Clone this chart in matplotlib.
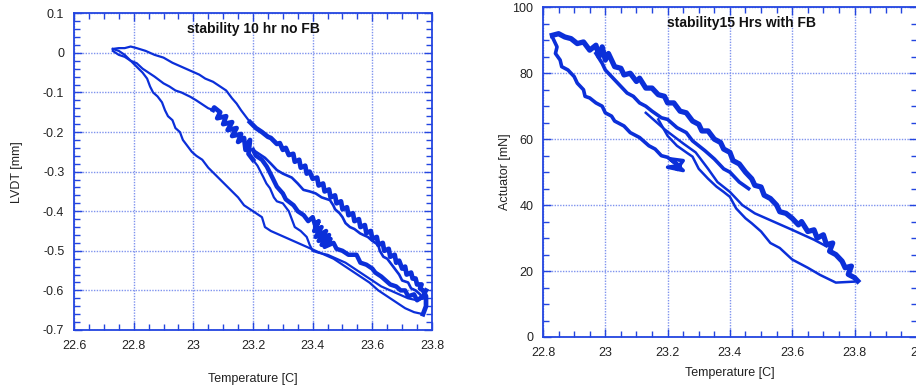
import matplotlib
matplotlib.use("Agg")
import matplotlib.pyplot as plt
from matplotlib.ticker import MultipleLocator, FormatStrFormatter

plt.rcParams['font.family'] = ['Liberation Sans', 'DejaVu Sans']
plt.rcParams['axes.unicode_minus'] = False

# ---- stability 10 hr, no feedback: LVDT [mm] vs temperature [C] ----
# lower outer branch (cooling -> heating)
temp_low = [22.73, 22.75, 22.77, 22.79, 22.81, 22.83, 22.845, 22.855, 22.865, 22.88,
            22.895, 22.905, 22.915, 22.93, 22.94, 22.955, 22.965, 22.98, 22.995, 23.01,
            23.03, 23.05, 23.07, 23.09, 23.11, 23.13, 23.15, 23.17, 23.19, 23.21,
            23.23, 23.24, 23.26, 23.29, 23.32, 23.35, 23.38, 23.41, 23.44, 23.47,
            23.50, 23.53, 23.56, 23.59, 23.62, 23.65, 23.68, 23.71, 23.74, 23.77]
lvdt_low = [0.01, 0.005, -0.005, -0.02, -0.035, -0.05, -0.065, -0.085, -0.1, -0.11,
            -0.125, -0.145, -0.16, -0.17, -0.19, -0.2, -0.22, -0.235, -0.25, -0.26,
            -0.27, -0.29, -0.305, -0.32, -0.335, -0.35, -0.365, -0.385, -0.395, -0.405,
            -0.415, -0.44, -0.45, -0.46, -0.47, -0.48, -0.49, -0.50, -0.51, -0.52,
            -0.535, -0.55, -0.565, -0.58, -0.60, -0.615, -0.63, -0.645, -0.655, -0.66]

# upper outer branch (back from the warm end)
temp_top = [23.77, 23.78, 23.78, 23.77, 23.76, 23.765, 23.75, 23.745, 23.735, 23.73,
            23.715, 23.71, 23.7, 23.69, 23.68, 23.675, 23.66, 23.655, 23.64, 23.635,
            23.62, 23.615, 23.6, 23.595, 23.58, 23.575, 23.56, 23.555, 23.54, 23.535,
            23.52, 23.515, 23.5, 23.495, 23.48, 23.475, 23.46, 23.455, 23.44, 23.435,
            23.42, 23.415, 23.4, 23.39, 23.38, 23.375, 23.36, 23.355, 23.34, 23.335,
            23.32, 23.31, 23.3, 23.29, 23.28, 23.26, 23.25, 23.23, 23.21, 23.19,
            23.16, 23.145, 23.13, 23.11, 23.09, 23.066, 23.04, 23.02, 22.99, 22.96,
            22.93, 22.9, 22.87, 22.84, 22.81, 22.79, 22.77, 22.75, 22.73]
lvdt_top = [-0.66, -0.64, -0.615, -0.6, -0.595, -0.585, -0.585, -0.57, -0.57, -0.555,
            -0.56, -0.54, -0.545, -0.525, -0.53, -0.51, -0.515, -0.495, -0.5, -0.48,
            -0.485, -0.465, -0.47, -0.45, -0.455, -0.435, -0.44, -0.42, -0.425, -0.405,
            -0.41, -0.39, -0.395, -0.375, -0.38, -0.36, -0.365, -0.345, -0.35, -0.33,
            -0.335, -0.315, -0.318, -0.3, -0.305, -0.285, -0.29, -0.27, -0.275, -0.255,
            -0.258, -0.24, -0.245, -0.228, -0.23, -0.215, -0.212, -0.2, -0.19, -0.175,
            -0.145, -0.128, -0.115, -0.095, -0.085, -0.073, -0.065, -0.055, -0.045, -0.035,
            -0.025, -0.012, -0.005, 0.005, 0.012, 0.016, 0.012, 0.012, 0.01]

# second cycle: down through the inner branch
temp_mid = [22.73, 22.75, 22.77, 22.79, 22.81, 22.83, 22.85, 22.87, 22.9, 22.92,
            22.94, 22.96, 22.99, 23.01, 23.03, 23.05, 23.066, 23.07, 23.09, 23.08,
            23.11, 23.1, 23.13, 23.115, 23.145, 23.13, 23.16, 23.15, 23.17, 23.175,
            23.19, 23.185, 23.2, 23.215, 23.234, 23.245, 23.257, 23.27, 23.28, 23.3,
            23.32, 23.33, 23.34, 23.36, 23.38, 23.39, 23.40, 23.42, 23.45, 23.48,
            23.51, 23.54, 23.57, 23.6, 23.63, 23.66, 23.69, 23.72, 23.75, 23.77]
lvdt_mid = [0.005, -0.005, -0.01, -0.02, -0.026, -0.04, -0.05, -0.06, -0.077, -0.085,
            -0.095, -0.1, -0.111, -0.12, -0.13, -0.14, -0.144, -0.138, -0.15, -0.165,
            -0.16, -0.18, -0.175, -0.195, -0.19, -0.21, -0.205, -0.225, -0.215, -0.245,
            -0.22, -0.255, -0.27, -0.285, -0.313, -0.33, -0.342, -0.365, -0.375, -0.38,
            -0.4, -0.42, -0.44, -0.45, -0.465, -0.485, -0.5, -0.505, -0.51, -0.52,
            -0.53, -0.545, -0.56, -0.575, -0.59, -0.6, -0.61, -0.62, -0.625, -0.62]

# return along the inner upper branch, then the noisy inner loop
temp_in = [23.77, 23.76, 23.745, 23.73, 23.72, 23.7, 23.69, 23.675, 23.665, 23.65,
           23.637, 23.625, 23.62, 23.6, 23.585, 23.57, 23.559, 23.54, 23.525, 23.51,
           23.5, 23.49, 23.475, 23.469, 23.458, 23.43, 23.41, 23.39, 23.369, 23.35,
           23.33, 23.3, 23.28, 23.26, 23.24, 23.22, 23.2, 23.21, 23.23, 23.246,
           23.255, 23.265, 23.28, 23.3, 23.31, 23.336, 23.35, 23.37, 23.385, 23.4,
           23.41, 23.42, 23.405, 23.43, 23.41, 23.445, 23.42, 23.455, 23.43, 23.46,
           23.44, 23.47, 23.48, 23.5, 23.52, 23.547,
           23.56, 23.58, 23.6, 23.61, 23.63, 23.645, 23.66, 23.68, 23.695, 23.71,
           23.72, 23.74, 23.75, 23.77, 23.78]
lvdt_in = [-0.62, -0.61, -0.6, -0.595, -0.58, -0.575, -0.56, -0.545, -0.535, -0.52,
           -0.515, -0.5, -0.485, -0.475, -0.465, -0.46, -0.456, -0.445, -0.44, -0.43,
           -0.415, -0.405, -0.395, -0.385, -0.372, -0.365, -0.355, -0.35, -0.346, -0.33,
           -0.315, -0.305, -0.296, -0.28, -0.265, -0.255, -0.245, -0.26, -0.27, -0.287,
           -0.3, -0.315, -0.338, -0.355, -0.37, -0.385, -0.4, -0.41, -0.425, -0.415,
           -0.44, -0.425, -0.45, -0.44, -0.465, -0.45, -0.475, -0.46, -0.485, -0.47,
           -0.49, -0.48, -0.495, -0.5, -0.51, -0.51,
           -0.53, -0.535, -0.545, -0.555, -0.565, -0.575, -0.585, -0.59, -0.6, -0.6,
           -0.615, -0.61, -0.625, -0.615, -0.6]

# ---- stability 15 hrs, with feedback: actuator [mN] vs temperature [C] ----
temp_band = [22.83, 22.85, 22.87, 22.89, 22.91, 22.93, 22.95, 22.97, 22.98, 22.99,
             23.0, 23.01, 23.03, 23.05, 23.06, 23.08, 23.1, 23.11, 23.13, 23.15,
             23.17, 23.19, 23.2, 23.22, 23.24, 23.26, 23.28, 23.3, 23.31, 23.33,
             23.35, 23.37, 23.38, 23.4, 23.41, 23.43, 23.45, 23.47, 23.48, 23.5,
             23.51, 23.53, 23.55, 23.56, 23.58, 23.6, 23.62, 23.63, 23.65, 23.67,
             23.68, 23.7, 23.71, 23.73, 23.72, 23.74, 23.76, 23.77, 23.79, 23.78,
             23.8, 23.81]
force_band = [91.5, 92, 91, 90.5, 89, 89.5, 87, 88.5, 85, 88,
              84, 86, 82, 81.5, 79.5, 80, 77.5, 78.5, 75.5, 75.5,
              73.5, 73, 71, 71, 68.5, 68, 65.5, 64.5, 62.5, 62.5,
              60, 59, 57, 56, 53.5, 52.5, 50, 48, 46, 45.5,
              43, 42, 40, 38, 37.5, 36, 34, 35, 32, 32.5,
              30, 31, 28, 28.5, 26, 25, 23, 21, 21.5, 19,
              18, 17]

temp_second = [22.97, 22.99, 23.0, 23.03, 23.05, 23.07, 23.09, 23.11, 23.13, 23.15,
               23.18, 23.2, 23.23, 23.26, 23.28, 23.3, 23.32, 23.35, 23.38, 23.4,
               23.43, 23.46]
force_second = [86, 83, 81, 78, 76, 74, 73, 71, 70, 68.5,
                66.5, 66, 63.5, 62, 59.5, 58, 56.5, 54, 51, 50,
                47, 45]

temp_left = [22.83, 22.845, 22.84, 22.855, 22.86, 22.88, 22.9, 22.91, 22.93, 22.935,
             22.95, 22.97, 22.99, 23.0, 23.02, 23.03, 23.06, 23.08, 23.11, 23.14,
             23.16, 23.18, 23.2, 23.22, 23.24, 23.2, 23.25, 23.21, 23.25, 23.23]
force_left = [91, 88, 86, 84, 82, 81, 79, 77, 75, 73,
              72.5, 71, 70, 68, 67, 65.5, 64, 62, 60.5, 58,
              57, 55, 54.5, 53, 52, 51.5, 50.5, 54, 53.5, 51]

temp_low2 = [23.17, 23.2, 23.23, 23.26, 23.28, 23.3, 23.33, 23.357, 23.38, 23.4,
             23.42, 23.45, 23.47, 23.5, 23.53, 23.56, 23.6, 23.65, 23.69, 23.74,
             23.8]
force_low2 = [66, 61, 58, 56, 54.7, 51, 48, 45.6, 44, 42.5,
              39, 36, 34.5, 32, 28.5, 27, 23.5, 21, 18.8, 16.5,
              16.8]

temp_up2 = [23.13, 23.19, 23.25, 23.29, 23.33, 23.36, 23.4, 23.44, 23.48, 23.54,
            23.6, 23.67, 23.71]
force_up2 = [68, 63, 58.7, 56, 51, 47, 44, 40, 37.5, 35,
             32.5, 29.5, 27.5]

line_col = '#0b2fd9'
grid_col = '#7f93ee'
spine_col = '#2345e0'
text_col = '#222222'

fig = plt.figure(figsize=(9.16, 3.85), dpi=100)
ax1 = fig.add_axes([0.0808, 0.1429, 0.3908, 0.8226])
ax2 = fig.add_axes([0.5928, 0.1247, 0.4081, 0.8563])


def style_axes(ax):
    ax.grid(True, which='major', color=grid_col, linestyle=(0, (1, 1)), linewidth=1.0)
    for s in ax.spines.values():
        s.set_color(spine_col)
        s.set_linewidth(1.3)
    ax.tick_params(which='both', direction='in', top=True, right=True,
                   color=spine_col, labelsize=9, labelcolor=text_col, pad=7)
    ax.tick_params(which='major', length=6, width=1)
    ax.tick_params(which='minor', length=4, width=1)
    ax.set_axisbelow(True)


# left panel
ax1.plot(temp_low, lvdt_low, color=line_col, lw=1.6)
ax1.plot(temp_top[:60], lvdt_top[:60], color=line_col, lw=3.4)
ax1.plot(temp_top[59:], lvdt_top[59:], color=line_col, lw=1.6)
ax1.plot(temp_mid[:17], lvdt_mid[:17], color=line_col, lw=1.6)
ax1.plot(temp_mid[16:33], lvdt_mid[16:33], color=line_col, lw=3.4)
ax1.plot(temp_mid[32:], lvdt_mid[32:], color=line_col, lw=1.6)
ax1.plot(temp_in[:37], lvdt_in[:37], color=line_col, lw=1.9)
ax1.plot(temp_in[36:], lvdt_in[36:], color=line_col, lw=3.2)
ax1.set_xlim(22.6, 23.8)
ax1.set_ylim(-0.7, 0.1)
ax1.xaxis.set_major_locator(MultipleLocator(0.2))
ax1.xaxis.set_minor_locator(MultipleLocator(0.05))
ax1.yaxis.set_major_locator(MultipleLocator(0.1))
ax1.yaxis.set_minor_locator(MultipleLocator(0.02))
ax1.xaxis.set_major_formatter(FormatStrFormatter('%g'))
ax1.yaxis.set_major_formatter(FormatStrFormatter('%g'))
style_axes(ax1)
ax1.set_xlabel('Temperature [C]', fontsize=9, color=text_col, labelpad=15)
ax1.set_ylabel('LVDT [mm]', fontsize=9, color=text_col, labelpad=14)
ax1.text(0.5, 0.95, 'stability 10 hr no FB', transform=ax1.transAxes,
         ha='center', va='center', fontsize=10, fontweight='bold', color='#111111')

# right panel
ax2.plot(temp_band, force_band, color=line_col, lw=3.8)
ax2.plot(temp_second, force_second, color=line_col, lw=2.6)
ax2.plot(temp_left, force_left, color=line_col, lw=2.6)
ax2.plot(temp_low2, force_low2, color=line_col, lw=1.8)
ax2.plot(temp_up2, force_up2, color=line_col, lw=1.8)
ax2.set_xlim(22.8, 24.0)
ax2.set_ylim(0, 100)
ax2.xaxis.set_major_locator(MultipleLocator(0.2))
ax2.xaxis.set_minor_locator(MultipleLocator(0.05))
ax2.yaxis.set_major_locator(MultipleLocator(20))
ax2.yaxis.set_minor_locator(MultipleLocator(5))
ax2.xaxis.set_major_formatter(FormatStrFormatter('%g'))
style_axes(ax2)
ax2.set_xlabel('Temperature [C]', fontsize=9, color=text_col, labelpad=6)
ax2.set_ylabel('Actuator [mN]', fontsize=9, color=text_col, labelpad=1)
ax2.text(0.532, 0.952, 'stability15 Hrs with FB', transform=ax2.transAxes,
         ha='center', va='center', fontsize=10, fontweight='bold', color='#111111')

fig.savefig('out.png', dpi=100)
